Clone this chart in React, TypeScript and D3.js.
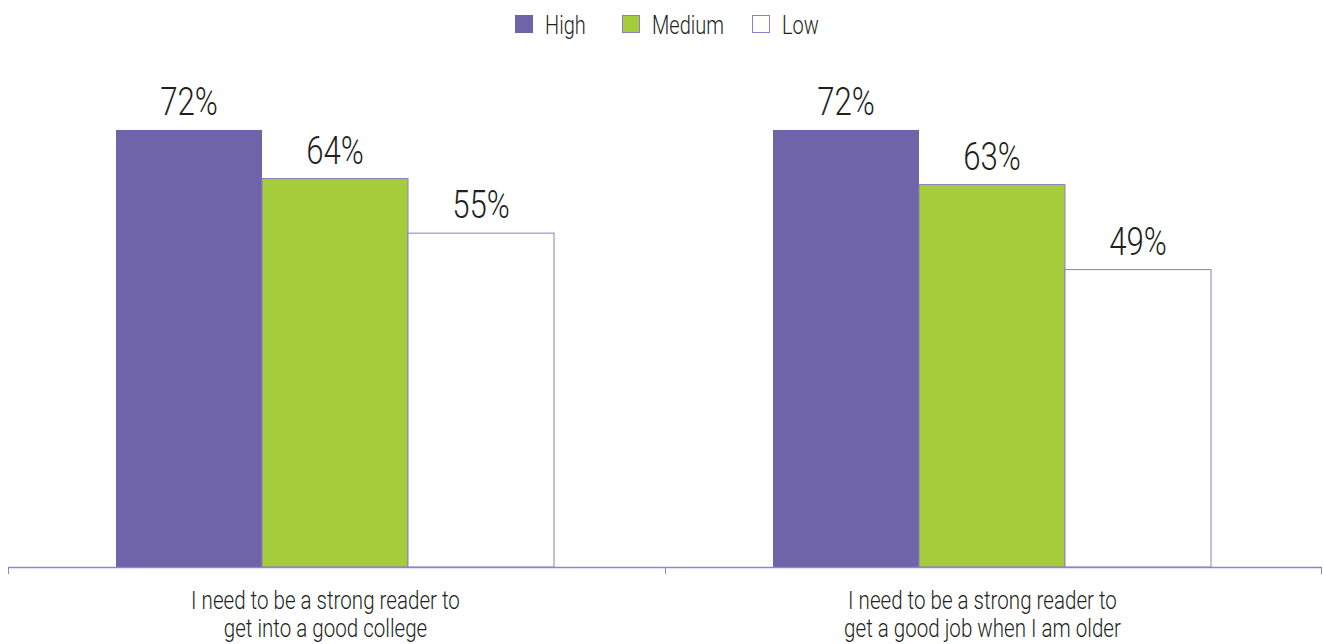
import React from "react";
import * as d3 from "d3";

const categories = [
  ["I need to be a strong reader to", "get into a good college"],
  ["I need to be a strong reader to", "get a good job when I am older"],
];
const seriesNames = ["High", "Medium", "Low"];
const high = [72, 72];
const medium = [64, 63];
const low = [55, 49];

const colors = ["#6f63aa", "#a5cc3a", "#ffffff"];
const strokeColors = ["#6f63aa", "#8a80c4", "#8a80c4"];
const FONT = "Roboto, 'Liberation Sans', Arial, sans-serif";
const SX = 0.8;

function CText({ x, y, size, anchor = "start", weight = 400, children }: any) {
  return (
    <text transform={`translate(${x},${y}) scale(${SX},1)`} textAnchor={anchor}
      fontFamily={FONT} fontWeight={weight} fontSize={size} fill="#231f20">
      {children}
    </text>
  );
}

export default function App() {
  const W = 1323, H = 644;
  const left = 8, right = 1322, base = 567;
  const values = [high, medium, low];
  const x0 = d3.scaleBand<number>().domain([0, 1]).range([left, right]);
  const x1 = d3.scaleBand<number>().domain([0, 1, 2]).range([108, 546]);
  const y = d3.scaleLinear().domain([0, 100]).range([base, base - 607]);
  const labelShift = -11;

  return (
    <svg width={W} height={H} style={{ position: "absolute", left: 0, top: 0, background: "#fff" }}>
      {seriesNames.map((s, i) => {
        const lx = [515, 622, 752][i];
        return (
          <g key={s}>
            <rect x={lx + 0.5} y={15.5} width={17} height={17} fill={colors[i]} stroke={strokeColors[i]} strokeWidth={1} />
            <CText x={lx + 30} y={34} size={25} weight={300}>{s}</CText>
          </g>
        );
      })}
      {categories.map((c, ci) => {
        const gx = x0(ci)!;
        return (
          <g key={ci}>
            {values.map((vals, si) => {
              const v = vals[ci];
              const bx = gx + x1(si)!;
              const bw = x1.bandwidth();
              return (
                <g key={si}>
                  <rect x={bx} y={y(v)} width={bw} height={base - y(v)} fill={colors[si]}
                    stroke={si === 0 ? "none" : strokeColors[si]} strokeWidth={1} />
                  <CText x={bx + bw / 2} y={y(v) - 15} size={39} weight={300} anchor="middle">{`${v}%`}</CText>
                </g>
              );
            })}
            {c.map((line, li) => (
              <CText key={li} x={gx + x0.bandwidth() / 2 + labelShift} y={609 + li * 28} size={25.7} weight={300} anchor="middle">{line}</CText>
            ))}
          </g>
        );
      })}
      <line x1={left} x2={right} y1={base + 0.5} y2={base + 0.5} stroke="#8f86c8" strokeWidth={1.5} />
      {[0, 1].map((t) => {
        const tx = x0(t)! + 0.5;
        return <line key={t} x1={tx} x2={tx} y1={base} y2={base + 7} stroke="#8f86c8" strokeWidth={1} />;
      })}
      <line x1={right - 0.5} x2={right - 0.5} y1={base} y2={base + 7} stroke="#8f86c8" strokeWidth={1} />
    </svg>
  );
}
